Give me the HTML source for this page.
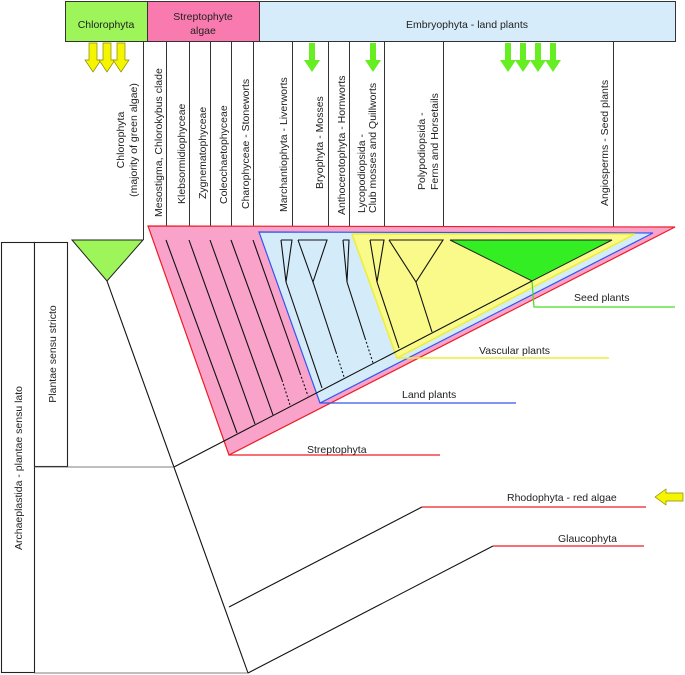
<!DOCTYPE html>
<html><head><meta charset="utf-8"><style>
html,body{margin:0;padding:0;background:#fff}
svg{display:block}
text{font-family:"Liberation Sans",sans-serif;font-size:10.5px;fill:#222}
</style></head><body>
<svg width="685" height="675" viewBox="0 0 685 675" xmlns="http://www.w3.org/2000/svg">
<!-- header boxes -->
<rect x="65.5" y="1.5" width="82" height="40" fill="#9ef55a" stroke="#333" stroke-width="1"/>
<rect x="147.5" y="1.5" width="112" height="40" fill="#f97aae" stroke="#333" stroke-width="1"/>
<rect x="259.5" y="1.5" width="416" height="40" fill="#d6ecfa" stroke="#333" stroke-width="1"/>
<text x="106" y="28" text-anchor="middle" font-size="11">Chlorophyta</text>
<text x="203" y="20" text-anchor="middle" font-size="11">Streptophyte</text>
<text x="203" y="34" text-anchor="middle" font-size="11">algae</text>
<text x="467" y="28" text-anchor="middle" font-size="11">Embryophyta - land plants</text>

<!-- vertical lines -->
<g stroke="#333" stroke-width="1">
<line x1="143.5" y1="41" x2="143.5" y2="240"/>
<line x1="166.5" y1="41" x2="166.5" y2="240"/>
<line x1="189.5" y1="41" x2="189.5" y2="240"/>
<line x1="210.5" y1="41" x2="210.5" y2="240"/>
<line x1="231.5" y1="41" x2="231.5" y2="240"/>
<line x1="253.5" y1="41" x2="253.5" y2="240"/>
<line x1="292.5" y1="41" x2="292.5" y2="240"/>
<line x1="328.5" y1="41" x2="328.5" y2="240"/>
<line x1="349.5" y1="41" x2="349.5" y2="240"/>
<line x1="384.5" y1="41" x2="384.5" y2="240"/>
<line x1="443.5" y1="41" x2="443.5" y2="240"/>
<line x1="613.5" y1="41" x2="613.5" y2="240"/>
</g>

<!-- arrows -->
<g fill="#f5f500" stroke="#888800" stroke-width="0.7">
<polygon points="89,43 97,43 97,60 101,60 93,72 85,60 89,60"/>
<polygon points="103,43 111,43 111,60 115,60 107,72 99,60 103,60"/>
<polygon points="117,43 125,43 125,60 129,60 121,72 113,60 117,60"/>
<polygon points="655,497 666,489 666,493 683,493 683,501 666,501 666,505"/>
</g>
<g fill="#66ee22">
<polygon points="309,43 315,43 315,60 320,60 312,72 304,60 309,60"/>
<polygon points="370,43 376,43 376,60 381,60 373,72 365,60 370,60"/>
<polygon points="505,43 511,43 511,60 516,60 508,72 500,60 505,60"/>
<polygon points="520,43 526,43 526,60 531,60 523,72 515,60 520,60"/>
<polygon points="535,43 541,43 541,60 546,60 538,72 530,60 535,60"/>
<polygon points="550,43 556,43 556,60 561,60 553,72 545,60 550,60"/>
</g>

<!-- rotated labels -->
<g>
<text transform="translate(124,140) rotate(-90)" text-anchor="middle">Chlorophyta</text>
<text transform="translate(137,140) rotate(-90)" text-anchor="middle">(majority of green algae)</text>
<text transform="translate(162,217) rotate(-90)">Mesostigma, Chlorokybus clade</text>
<text transform="translate(185,204) rotate(-90)">Klebsormidiophyceae</text>
<text transform="translate(206,199) rotate(-90)">Zygnematophyceae</text>
<text transform="translate(227,204) rotate(-90)">Coleochaetophyceae</text>
<text transform="translate(249,209) rotate(-90)">Charophyceae - Stoneworts</text>
<text transform="translate(287,212) rotate(-90)">Marchantiophyta - Liverworts</text>
<text transform="translate(323,189) rotate(-90)">Bryophyta - Mosses</text>
<text transform="translate(345,215) rotate(-90)">Anthocerotophyta - Hornworts</text>
<text transform="translate(365,213) rotate(-90)">Lycopodiopsida -</text>
<text transform="translate(376,213) rotate(-90)">Club mosses and Quillworts</text>
<text transform="translate(425,190) rotate(-90)">Polypodiopsida -</text>
<text transform="translate(438,190) rotate(-90)">Ferns and Horsetails</text>
<text transform="translate(608,206) rotate(-90)">Angiosperms - Seed plants</text>
</g>

<!-- nested clade triangles -->
<polygon points="148,226 675,227 229,455" fill="#f9a3cb" stroke="#ee1c24" stroke-width="1.2"/>
<polygon points="259,232 653,233 320,403" fill="#d4ecfa" stroke="#3355ee" stroke-width="1.2"/>
<polygon points="352,234 635,234 397,358" fill="#fafa8a" stroke="#eeee33" stroke-width="1.5"/>
<polygon points="450,240 612,240 532,281" fill="#33ee22" stroke="#222" stroke-width="1"/>

<!-- label lines -->
<polyline points="229,455 440,455" fill="none" stroke="#ee1c24" stroke-width="1.2"/>
<polyline points="320,403 516,403" fill="none" stroke="#3355ee" stroke-width="1.2"/>
<polyline points="397,358 609,358" fill="none" stroke="#eeee33" stroke-width="1.5"/>
<polyline points="532,281 534,307 675,307" fill="none" stroke="#44dd22" stroke-width="1.2"/>
<text x="307" y="453">Streptophyta</text>
<text x="402" y="398">Land plants</text>
<text x="479" y="354">Vascular plants</text>
<text x="574" y="301">Seed plants</text>

<!-- chlorophyta triangle -->
<polygon points="72,240 143,240 107,281" fill="#9ef55a" stroke="#222" stroke-width="1"/>

<!-- tree lines -->
<g stroke="#111" stroke-width="1.1" fill="none">
<line x1="248" y1="673" x2="107" y2="281"/>
<line x1="174" y1="467" x2="532" y2="281"/>
<line x1="166" y1="240" x2="237" y2="433"/>
<line x1="189" y1="240" x2="255" y2="424"/>
<line x1="210" y1="240" x2="273" y2="415"/>
<line x1="231" y1="240" x2="282" y2="380"/>
<line x1="282" y1="380" x2="290" y2="405" stroke-dasharray="2,2"/>
<line x1="253" y1="240" x2="300" y2="373"/>
<line x1="300" y1="373" x2="308" y2="396" stroke-dasharray="2,2"/>
<!-- liverworts -->
<polyline points="281,240 292,240 286,282 281,240"/>
<line x1="286" y1="282" x2="322" y2="388"/>
<!-- mosses -->
<polyline points="298,240 327,240 313,282 298,240"/>
<line x1="313" y1="282" x2="336" y2="352"/>
<line x1="336" y1="352" x2="344" y2="377" stroke-dasharray="2,2"/>
<!-- hornworts -->
<polyline points="343,240 349,240 347,282 343,240"/>
<line x1="347" y1="282" x2="365" y2="338"/>
<line x1="365" y1="338" x2="373" y2="363" stroke-dasharray="2,2"/>
<!-- lycopods -->
<polyline points="370,240 384,240 377,282 370,240"/>
<line x1="377" y1="282" x2="399" y2="348"/>
<!-- ferns -->
<polyline points="389,240 443,240 416,282 389,240"/>
<line x1="416" y1="282" x2="432" y2="332"/>
<!-- outgroups -->
<polyline points="229,607 422,507"/>
<polyline points="248,673 493,546"/>
</g>
<line x1="422" y1="507" x2="646" y2="507" stroke="#ee1c24" stroke-width="1.2"/>
<line x1="493" y1="546" x2="644" y2="546" stroke="#ee1c24" stroke-width="1.2"/>
<text x="507" y="501">Rhodophyta - red algae</text>
<text x="558" y="542">Glaucophyta</text>

<!-- left boxes -->
<rect x="1.5" y="242.5" width="33" height="430" fill="#fff" stroke="#222" stroke-width="1.1"/>
<rect x="34.5" y="242.5" width="33" height="224" fill="#fff" stroke="#222" stroke-width="1.1"/>
<line x1="34" y1="467" x2="174" y2="467" stroke="#555" stroke-width="0.8"/>
<line x1="34" y1="673" x2="248" y2="673" stroke="#555" stroke-width="0.8"/>
<text transform="translate(22,468) rotate(-90)" text-anchor="middle">Archaeplastida - plantae sensu lato</text>
<text transform="translate(56,354) rotate(-90)" text-anchor="middle">Plantae sensu stricto</text>
</svg>
</body></html>
